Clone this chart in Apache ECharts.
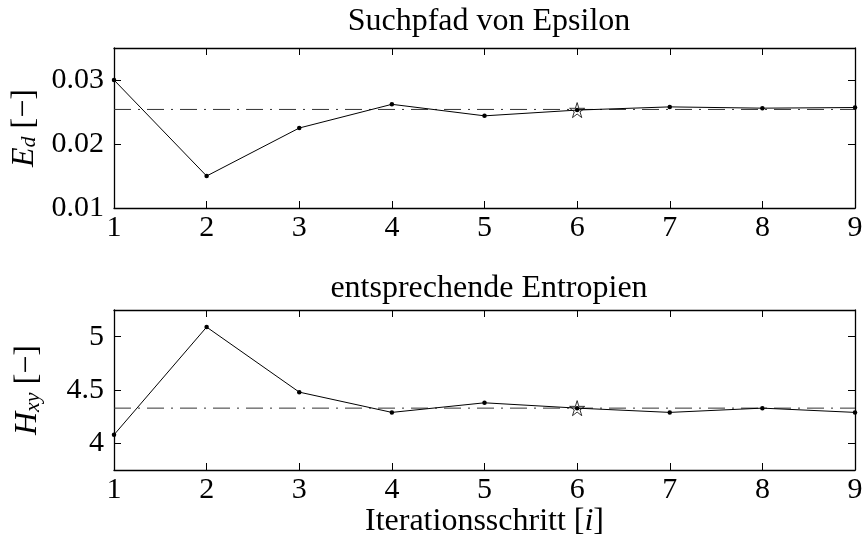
<!DOCTYPE html>
<html>
<head>
<meta charset="utf-8">
<script src="https://cdn.jsdelivr.net/npm/echarts@6/dist/echarts.min.js"></script>
<style>
  html, body { margin: 0; padding: 0; background: #fff; }
  #chart { width: 863px; height: 538px; }
</style>
</head>
<body>
<div id="chart"></div>
<script>
// Iteration numbers of the search
const iterations = [1, 2, 3, 4, 5, 6, 7, 8, 9];
// Epsilon value tried at each iteration
const epsilonPath = [0.0300, 0.0150, 0.0225, 0.0262, 0.0244, 0.0253, 0.0258, 0.0256, 0.0257];
// Entropy obtained for each epsilon
const entropies = [4.08, 5.09, 4.48, 4.29, 4.38, 4.33, 4.29, 4.33, 4.29];
// Selected iteration (marked with a star) and reference levels
const bestIteration = 6;
const epsilonRef = 0.0254;
const entropyRef = 4.33;
// Tick labels
const epsilonTicks = [0.01, 0.02, 0.03];
const entropyTicks = [4, 4.5, 5];
const iterationTicks = [1, 2, 3, 4, 5, 6, 7, 8, 9];

const FONT = '"Liberation Serif", "DejaVu Serif", serif';
const INK = '#000';
const TICK_SIZE = 30;
const TEXT_SIZE = 32;
const STAR = 'path://M50,2 L61.2,36.4 L97.6,36.4 L68.2,57.7 L79.4,92.1 L50,70.8 L20.6,92.1 L31.8,57.7 L2.4,36.4 L38.8,36.4 Z';

const pairs = (xs, ys) => xs.map((x, i) => [x, ys[i]]);
const bestIdx = iterations.indexOf(bestIteration);

function xAxes(grid, withLabels, name) {
  return [
    {
      gridIndex: grid, type: 'value', min: 1, max: 9, interval: 1,
      position: 'bottom',
      axisLine: { lineStyle: { color: INK, width: 1.3 } },
      axisTick: { inside: true, length: 7, lineStyle: { color: INK, width: 1 } },
      splitLine: { show: false },
      axisLabel: {
        show: withLabels, color: INK, fontFamily: FONT, fontSize: TICK_SIZE, margin: 5,
        customValues: iterationTicks
      },
      name: name || '', nameLocation: 'middle', nameGap: 33,
      nameTextStyle: {
        color: INK, fontFamily: FONT, fontSize: TEXT_SIZE,
        rich: { it: { fontFamily: FONT, fontSize: TEXT_SIZE, fontStyle: 'italic', color: INK } }
      }
    },
    {
      gridIndex: grid, type: 'value', min: 1, max: 9, interval: 1,
      position: 'top',
      axisLine: { lineStyle: { color: INK, width: 1.3 } },
      axisTick: { inside: true, length: 7, lineStyle: { color: INK, width: 1 } },
      splitLine: { show: false },
      axisLabel: { show: false }
    }
  ];
}

function yAxes(grid, min, max, ticks, name, rich, gap, margin) {
  return [
    {
      gridIndex: grid, type: 'value', min: min, max: max,
      position: 'left',
      axisLine: { lineStyle: { color: INK, width: 1.3 } },
      axisTick: { inside: true, length: 7, customValues: ticks, lineStyle: { color: INK, width: 1 } },
      splitLine: { show: false },
      axisLabel: { color: INK, fontFamily: FONT, fontSize: TICK_SIZE, margin: margin, customValues: ticks },
      name: name, nameLocation: 'middle', nameRotate: 90, nameGap: gap,
      nameTextStyle: { color: INK, fontFamily: FONT, fontSize: TEXT_SIZE, rich: rich }
    },
    {
      gridIndex: grid, type: 'value', min: min, max: max,
      position: 'right',
      axisLine: { lineStyle: { color: INK, width: 1.3 } },
      axisTick: { inside: true, length: 7, customValues: ticks, lineStyle: { color: INK, width: 1 } },
      splitLine: { show: false },
      axisLabel: { show: false }
    }
  ];
}

const nameRich = {
  it: { fontFamily: FONT, fontSize: TEXT_SIZE, fontStyle: 'italic', color: INK, verticalAlign: 'bottom' },
  sub: { fontFamily: FONT, fontSize: 22, fontStyle: 'italic', color: INK, verticalAlign: 'bottom' },
  rm: { fontFamily: FONT, fontSize: TEXT_SIZE, color: INK, verticalAlign: 'bottom' }
};

function pathSeries(xi, yi, values) {
  return {
    type: 'line', xAxisIndex: xi, yAxisIndex: yi,
    data: pairs(iterations, values),
    symbol: 'circle', symbolSize: 4.5,
    lineStyle: { color: INK, width: 1 },
    itemStyle: { color: INK },
    z: 3, silent: true, animation: false
  };
}

function refSeries(xi, yi, level) {
  return {
    type: 'line', xAxisIndex: xi, yAxisIndex: yi,
    data: [[iterations[0], level], [iterations[iterations.length - 1], level]],
    symbol: 'none',
    lineStyle: { color: '#333', width: 1, type: [17, 7, 2, 7] },
    z: 2, silent: true, animation: false
  };
}

function starSeries(xi, yi, values) {
  return {
    type: 'scatter', xAxisIndex: xi, yAxisIndex: yi,
    data: [[bestIteration, values[bestIdx]]],
    symbol: STAR, symbolSize: 15,
    itemStyle: { color: 'rgba(0,0,0,0)', borderColor: INK, borderWidth: 1 },
    z: 4, silent: true, animation: false
  };
}

const chart = echarts.init(document.getElementById('chart'), null, { renderer: 'canvas' });
chart.setOption({
  backgroundColor: '#fff',
  animation: false,
  title: [
    { text: 'Suchpfad von Epsilon', left: 484, top: 1, textAlign: 'center',
      textStyle: { fontFamily: FONT, fontSize: TEXT_SIZE, fontWeight: 'normal', color: INK } },
    { text: 'entsprechende Entropien', left: 484, top: 268, textAlign: 'center',
      textStyle: { fontFamily: FONT, fontSize: TEXT_SIZE, fontWeight: 'normal', color: INK } }
  ],
  grid: [
    { left: 114, top: 48, width: 741, height: 160, outerBoundsMode: 'none', containLabel: false },
    { left: 114, top: 310, width: 741, height: 160, outerBoundsMode: 'none', containLabel: false }
  ],
  xAxis: [
    ...xAxes(0, true),
    ...xAxes(1, true, 'Iterationsschritt [{it|i}]')
  ],
  yAxis: [
    ...yAxes(0, 0.01, 0.035, epsilonTicks, '{it|E}{sub|d} {rm|[−]}', nameRich, 70, 10),
    ...yAxes(1, 3.75, 5.25, entropyTicks, '{it|H}{sub|xy} {rm|[−]}', nameRich, 70, 10)
  ],
  series: [
    refSeries(0, 0, epsilonRef),
    pathSeries(0, 0, epsilonPath),
    starSeries(0, 0, epsilonPath),
    refSeries(2, 2, entropyRef),
    pathSeries(2, 2, entropies),
    starSeries(2, 2, entropies)
  ]
});
</script>
</body>
</html>
